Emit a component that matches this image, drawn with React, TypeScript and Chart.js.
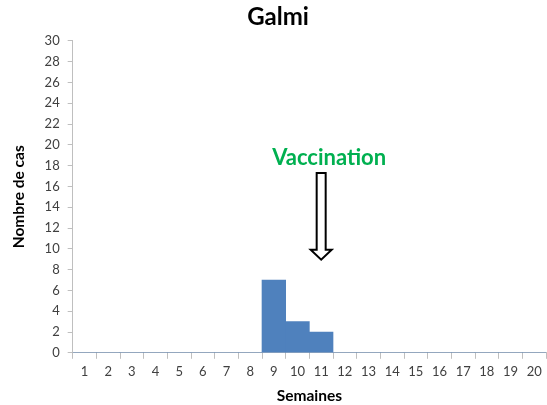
import React, { useEffect, useRef } from "react";
import { Chart, registerables } from "chart.js";

Chart.register(...registerables);

const weeks = ["1","2","3","4","5","6","7","8","9","10","11","12","13","14","15","16","17","18","19","20"];
const cases = [0,0,0,0,0,0,0,0,7,3,2,0,0,0,0,0,0,0,0,0];
const yTicks = [0,2,4,6,8,10,12,14,16,18,20,22,24,26,28,30];
const annotationLabel = "Vaccination";
const annotationWeek = "11";
const arrowTop = 17.3;
const arrowTip = 8.95;
const labelValue = 18.7;

const FONT = "Lato, 'Open Sans', sans-serif";

const arrowPlugin = {
  id: "vaccArrow",
  afterDatasetsDraw(chart: any) {
    const { ctx, scales } = chart;
    const xs = scales.x;
    const ys = scales.y;
    const idx = weeks.indexOf(annotationWeek);
    const x = xs.getPixelForValue(idx);
    const yTop = ys.getPixelForValue(arrowTop);
    const yTip = ys.getPixelForValue(arrowTip);
    const headH = 10;
    const shaftHalf = 4.5;
    const headHalf = 10.5;
    ctx.save();
    ctx.beginPath();
    ctx.moveTo(x - shaftHalf, yTop);
    ctx.lineTo(x + shaftHalf, yTop);
    ctx.lineTo(x + shaftHalf, yTip - headH);
    ctx.lineTo(x + headHalf, yTip - headH);
    ctx.lineTo(x, yTip);
    ctx.lineTo(x - headHalf, yTip - headH);
    ctx.lineTo(x - shaftHalf, yTip - headH);
    ctx.closePath();
    ctx.fillStyle = "#ffffff";
    ctx.fill();
    ctx.lineWidth = 2;
    ctx.strokeStyle = "#000000";
    ctx.stroke();
    ctx.font = "bold 22px " + FONT;
    ctx.fillStyle = "#00B050";
    ctx.textAlign = "center";
    ctx.textBaseline = "middle";
    ctx.fillText(annotationLabel, x + 8, ys.getPixelForValue(labelValue));
    ctx.restore();
  },
};

export default function App() {
  const ref = useRef<HTMLCanvasElement>(null);
  useEffect(() => {
    document.body.style.margin = "0";
    const chart = new Chart(ref.current!, {
      type: "bar",
      data: {
        labels: weeks,
        datasets: [
          {
            data: cases,
            backgroundColor: "#4F81BD",
            borderWidth: 0,
            barPercentage: 1,
            categoryPercentage: 1,
          },
        ],
      },
      options: {
        animation: false,
        responsive: false,
        maintainAspectRatio: false,
        layout: { padding: { left: 10, right: 1, top: 0, bottom: 0 } },
        plugins: {
          legend: { display: false },
          tooltip: { enabled: false },
          title: {
            display: true,
            text: "Galmi",
            color: "#000",
            font: { family: FONT, size: 24, weight: "bold" },
            padding: { top: 3, bottom: 9 },
          },
        },
        scales: {
          x: {
            offset: true,
            grid: {
              offset: true,
              drawOnChartArea: false,
              drawTicks: true,
              tickLength: 6,
              color: "#BFBFBF",
            },
            border: { color: "#BFBFBF", width: 1 },
            ticks: {
              color: "#404040",
              font: { family: FONT, size: 13 },
              maxRotation: 0,
              autoSkip: false,
              padding: 5,
            },
            title: {
              display: true,
              text: "Semaines",
              color: "#000",
              font: { family: FONT, size: 15.5, weight: "bold" },
              padding: { top: 2, bottom: 0 },
            },
          },
          y: {
            min: 0,
            max: 30,
            afterBuildTicks(axis: any) {
              axis.ticks = yTicks.map((v) => ({ value: v }));
            },
            grid: {
              drawOnChartArea: false,
              drawTicks: true,
              tickLength: 5,
              color: "#BFBFBF",
            },
            border: { color: "#BFBFBF", width: 1 },
            ticks: {
              color: "#404040",
              font: { family: FONT, size: 13 },
              padding: 8,
            },
            title: {
              display: true,
              text: "Nombre de cas",
              color: "#000",
              font: { family: FONT, size: 15.5, weight: "bold" },
              padding: { top: 0, bottom: 8 },
            },
          },
        },
      },
      plugins: [arrowPlugin],
    });
    return () => chart.destroy();
  }, []);
  return (
    <div style={{ width: 547, height: 405 }}>
      <canvas ref={ref} width={547} height={405} />
    </div>
  );
}
